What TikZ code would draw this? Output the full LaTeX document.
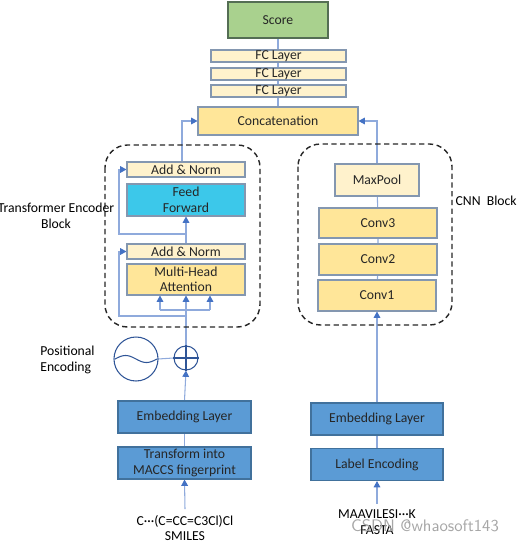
\documentclass[tikz,border=0pt]{standalone}
\usepackage{fontspec}
\setmainfont{Carlito}
\usetikzlibrary{positioning,arrows.meta,calc,backgrounds}
\definecolor{lineblue}{RGB}{143,170,220}
\definecolor{tipblue}{RGB}{68,114,196}
\definecolor{scoregreen}{RGB}{169,209,142}
\definecolor{scoreedge}{RGB}{84,110,84}
\definecolor{lightcream}{RGB}{255,242,204}
\definecolor{goldfill}{RGB}{255,230,153}
\definecolor{boxedge}{RGB}{132,151,176}
\definecolor{ffcyan}{RGB}{60,200,234}
\definecolor{embblue}{RGB}{91,155,213}
\definecolor{embedge}{RGB}{65,113,156}
\definecolor{circblue}{RGB}{47,85,151}
\tikzset{
  layerbox/.style={draw=boxedge,line width=0.6pt,inner sep=0pt,align=center,text=black!85},
  creambox/.style={layerbox,fill=lightcream},
  goldbox/.style={layerbox,fill=goldfill},
  bluebox/.style={layerbox,draw=embedge,fill=embblue,minimum height=0.64cm},
  conn/.style={draw=lineblue,line width=0.6pt},
  dashbox/.style={draw=black!85,line width=0.8pt,dash pattern=on 3pt off 2pt,rounded corners=0.45cm},
}
\begin{document}
\begin{tikzpicture}[x=0.02cm,y=-0.02cm,>={Triangle[length=3.6pt,width=3.8pt,color=tipblue]},
  every node/.style={font=\fontsize{7.8}{8.8}\selectfont}]
\useasboundingbox (0,0) rectangle (520,542);
% output head
\node[layerbox,draw=scoreedge,fill=scoregreen,minimum width=2cm,minimum height=0.72cm] (score) at (278,20) {Score};
\node[creambox,minimum width=2.7cm,minimum height=0.24cm] (fc1) at (278.5,56) {FC Layer};
\node[creambox,minimum width=2.7cm,minimum height=0.24cm] (fc2) at (278.5,74) {FC Layer};
\node[creambox,minimum width=2.7cm,minimum height=0.24cm] (fc3) at (278.5,91) {FC Layer};
\node[goldbox,minimum width=3.2cm,minimum height=0.56cm] (concat) at (278,121) {Concatenation};
% transformer branch
\draw[dashbox] (105,145) rectangle (260,327);
\node[creambox,minimum width=2.36cm,minimum height=0.3cm] (addnormB) at (186,169.5) {Add \& Norm};
\node[layerbox,fill=ffcyan,minimum width=2.36cm,minimum height=0.64cm] (ff) at (186,200) {Feed\\Forward};
\node[creambox,minimum width=2.36cm,minimum height=0.3cm] (addnormA) at (186,251.5) {Add \& Norm};
\node[goldbox,minimum width=2.36cm,minimum height=0.62cm] (mha) at (186,279.5) {Multi-Head\\Attention};
\node[align=center,inner sep=0pt] (tlabel) at (56,216) {Transformer Encoder\\Block};
\draw[circblue,line width=0.6pt] (136,359) circle (22);
\coordinate (pe) at (136,359);
\node[circle,draw=circblue,line width=0.6pt,minimum size=0.48cm,inner sep=0pt] (plus) at (186,358) {};
\draw[circblue,line width=0.6pt] (plus.north) -- (plus.south) (plus.west) -- (plus.east);
\draw[circblue,line width=0.6pt] plot[domain=-21:21,samples=40,smooth] ({136+\x},{359+3.5*sin(\x*8.6)});
\node[align=left,anchor=west,inner sep=0pt] (pelabel) at (40,360) {Positional\\Encoding};
\node[bluebox,minimum width=2.66cm] (embL) at (184.5,417) {Embedding Layer};
\node[bluebox,minimum width=2.66cm] (trans) at (184.5,463) {Transform into\\MACCS fingerprint};
\node[align=center] (smiles) at (185,528) {C···(C=CC=C3Cl)Cl\\SMILES};
% cnn branch
\draw[dashbox] (298,144) rectangle (452,325);
\node[creambox,minimum width=1.68cm,minimum height=0.64cm] (maxpool) at (377,180) {MaxPool};
\node[goldbox,minimum width=2.36cm,minimum height=0.6cm] (conv3) at (378,223) {Conv3};
\node[goldbox,minimum width=2.36cm,minimum height=0.62cm] (conv2) at (378,259.5) {Conv2};
\node[goldbox,minimum width=2.36cm,minimum height=0.62cm] (conv1) at (377,295.5) {Conv1};
\node[anchor=east,inner sep=0pt] (clabel) at (517,201) {CNN\ \ Block};
\node[bluebox,minimum width=2.64cm] (embR) at (377,419) {Embedding Layer};
\node[bluebox,minimum width=2.64cm] (labelenc) at (377,464.5) {Label Encoding};
\node[align=center] (fasta) at (377,522) {MAAVILESI···K\\FASTA};
\node[text=black!35,font=\fontsize{9.5}{10}\sffamily] (mark) at (425,526) {CSDN @whaosoft143};
\coordinate (skipx) at (119,0);
\coordinate (res1) at (186,316);
\coordinate (res2) at (186,234);
\coordinate (brL) at (160,310);
\coordinate (brR) at (210,310);
\begin{scope}[on background layer]
\draw[conn] (score.south) -- (concat.north);
\draw[conn,->] ([xshift=-0.08cm]addnormB.north) |- (concat.west);
\draw[conn,->] (maxpool.north) |- (concat.east);
\draw[conn] (maxpool) -- (conv3) -- (conv2) -- (conv1);
\draw[conn,->] (embR.north) -- (conv1.south);
\draw[conn] (labelenc.north) -- (embR.south);
\draw[conn,->] (fasta.north) -- (labelenc.south);
\draw[conn,->] (smiles.north) -- (trans.south);
\draw[conn] (trans.north) -- (embL.south);
\draw[conn,->] (embL.north) -- (plus.south);
\draw[conn] (pe) ++(22,0) -- (plus.west);
\draw[conn,->] (plus.north) -- (mha.south);
\draw[conn] (brL) -- (brR);
\draw[conn,->] (brL) -- (brL |- mha.south);
\draw[conn,->] (brR) -- (brR |- mha.south);
\draw[conn,->] (res1) -- (res1 -| skipx) |- (addnormA.west);
\draw[conn,->] (addnormA.north) -- (ff.south);
\draw[conn,->] (res2) -- (res2 -| skipx) |- (addnormB.west);
\end{scope}
\end{tikzpicture}
\end{document}
